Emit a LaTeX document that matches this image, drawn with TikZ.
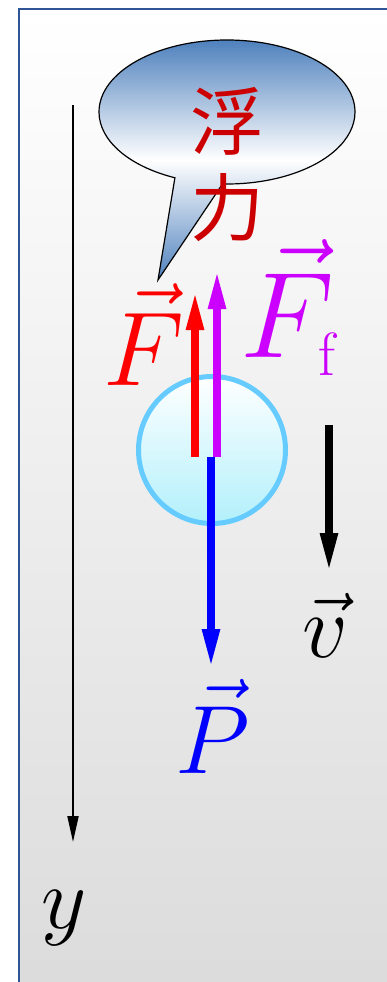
\RequirePackage{fix-cm}
\documentclass[tikz,border=0pt]{standalone}
\usepackage{fontspec}
\newfontfamily\cjkfont{Noto Sans CJK SC}
\usepackage{tikz}
\usetikzlibrary{arrows.meta, shapes.geometric, shapes.callouts}
\definecolor{frameblue}{RGB}{47,85,151}
\definecolor{bubbleblue}{RGB}{79,129,189}
\definecolor{ballrim}{RGB}{102,204,255}
\definecolor{ballfill}{RGB}{178,240,251}
\definecolor{fuli}{RGB}{204,0,0}
\definecolor{ffcol}{RGB}{204,0,255}
\definecolor{bggray}{RGB}{219,219,219}

\begin{document}
\begin{tikzpicture}[x=1pt, y=-1pt,
	force/.style={line width=8pt, -{Triangle[length=40pt, width=16pt]}},
	bubble/.style={ellipse callout, draw=black, line width=1.2pt, inner sep=0pt,
		minimum width=256pt, minimum height=144pt, callout pointer arc=22,
		top color=bubbleblue, bottom color=bubbleblue, middle color=white},
	lbl/.style={anchor=base, inner sep=0pt}]
		\useasboundingbox (0,0) rectangle (387,982);
		\clip (0,0) rectangle (387,982);
		\fill[white] (0,0) rectangle (387,982);
		
		% frame
		\shade[top color=white, bottom color=bggray] (19,9) rectangle (400,1000);
		\draw[frameblue, line width=2pt] (400,9) -- (19,9) -- (19,1000);
		
		% axis
		\coordinate (ytop) at (73,105);
		\coordinate (ybot) at (73,842);
		\draw[line width=2pt, -{Triangle[length=26pt, width=11pt]}] (ytop) -- (ybot);
		\node[lbl, font=\fontsize{88}{88}\selectfont] (ylab) at (64,928) {$y$};
		
		% callout
		\node[bubble, callout absolute pointer={(158,280)}] (bubble) at (227,112) {};
		\node[align=center, text=fuli, inner sep=0pt, font=\cjkfont\fontsize{74}{86}\selectfont] (fuli) at (227,165) {浮\\力};
		
		% ball
		\node[circle, draw=ballrim, line width=5pt, minimum size=147pt, inner sep=0pt,
			top color=white, bottom color=ballfill] (ball) at (212,450) {};
		
		% forces
		\coordinate (Fbot) at (195,457);
		\coordinate (Ftop) at (195,290);
		\coordinate (Ffbot) at (217,457);
		\coordinate (Fftop) at (217,269);
		\coordinate (Ptop) at (211,457);
		\coordinate (Pbot) at (211,669);
		\draw[force, red] (Fbot) -- (Ftop);
		\draw[force, ffcol] (Ffbot) -- (Fftop);
		\draw[force, blue] (Ptop) -- (Pbot);
		\node[lbl, text=red, font=\fontsize{105}{105}\selectfont] (Flab) at (144,385) {$\vec{F}$};
		\node[lbl, text=ffcol, font=\fontsize{122}{122}\selectfont] (Fflab) at (288,357) {$\vec{F}_{\scriptscriptstyle\mathrm{f}}$};
		\node[lbl, text=blue, font=\fontsize{97}{97}\selectfont] (Plab) at (213,773) {$\vec{P}$};
		
		% velocity
		\coordinate (vtop) at (329,425);
		\coordinate (vbot) at (329,573);
		\draw[force, black] (vtop) -- (vbot);
		\node[lbl, font=\fontsize{90}{90}\selectfont] (vlab) at (325,657) {$\vec{v}$};
	\end{tikzpicture}
\end{document}
